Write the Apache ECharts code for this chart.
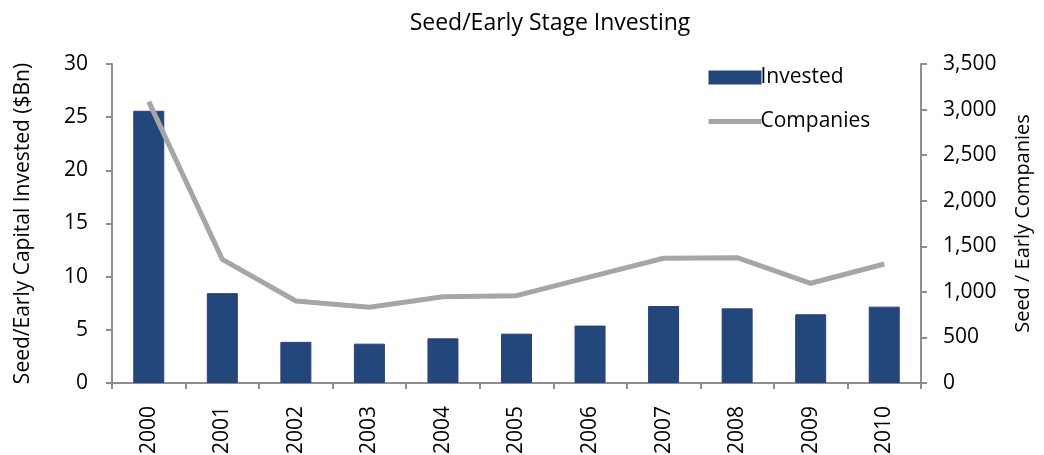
<!DOCTYPE html>
<html>
<head>
<meta charset="utf-8">
<script src="https://cdn.jsdelivr.net/npm/echarts@6/dist/echarts.min.js"></script>
<style>
  html, body { margin: 0; padding: 0; background: #fff; }
  #chart { width: 1044px; height: 455px; }
</style>
</head>
<body>
<div id="chart"></div>
<script>
const years = ['2000', '2001', '2002', '2003', '2004', '2005', '2006', '2007', '2008', '2009', '2010']
const invested = [25.6, 8.45, 3.87, 3.7, 4.2, 4.64, 5.4, 7.24, 7.02, 6.46, 7.18]
const companies = [3087, 1357, 900, 831, 947, 958, 1165, 1369, 1375, 1094, 1306]

const FONT = 'Open Sans'
const axisGray = '#8e8e8e'
const lineGray = '#a6a6a6'

const chart = echarts.init(document.getElementById('chart'))
chart.setOption({
  animation: false,
  textStyle: { fontFamily: FONT, color: '#000' },
  title: {
    text: 'Seed/Early Stage Investing',
    left: 545,
    textAlign: 'center',
    top: 7,
    textStyle: { fontFamily: FONT, fontSize: 23, fontWeight: 'normal', color: '#000' }
  },
  legend: {
    orient: 'vertical',
    left: 701,
    top: 62,
    itemWidth: 53,
    itemHeight: 14,
    itemGap: 23,
    itemStyle: { borderWidth: 0 },
    textStyle: { fontFamily: FONT, fontSize: 21, color: '#000', padding: [0, 0, 0, -6] },
    data: [
      { name: 'Invested', icon: 'rect' },
      { name: 'Companies', itemStyle: { opacity: 0 }, lineStyle: { width: 5, color: lineGray } }
    ]
  },
  grid: { left: 112, right: 123, top: 64, bottom: 72, outerBoundsMode: 'none' },
  xAxis: {
    type: 'category',
    data: years,
    axisLine: { lineStyle: { color: axisGray, width: 2 } },
    axisTick: { show: true, length: 6, lineStyle: { color: axisGray, width: 2 } },
    axisLabel: { rotate: 90, fontSize: 21, color: '#000', margin: 23 }
  },
  yAxis: [
    {
      type: 'value',
      min: 0,
      max: 30,
      interval: 5,
      name: 'Seed/Early Capital Invested ($Bn)',
      nameLocation: 'middle',
      nameGap: 78,
      nameTextStyle: { fontSize: 21, color: '#000' },
      axisLine: { show: true, lineStyle: { color: axisGray, width: 2 } },
      axisTick: { show: true, length: 6, lineStyle: { color: axisGray, width: 2 } },
      axisLabel: { fontSize: 21, color: '#000', margin: 24 },
      splitLine: { show: false }
    },
    {
      type: 'value',
      min: 0,
      max: 3500,
      interval: 500,
      position: 'right',
      name: 'Seed / Early Companies',
      nameLocation: 'middle',
      nameGap: 92,
      nameRotate: 90,
      nameTextStyle: { fontSize: 20, color: '#000' },
      axisLine: { show: true, lineStyle: { color: axisGray, width: 2 } },
      axisTick: { show: true, length: 6, lineStyle: { color: axisGray, width: 2 } },
      axisLabel: {
        fontSize: 21,
        color: '#000',
        margin: 22,
        formatter: (v) => v.toLocaleString('en-US')
      },
      splitLine: { show: false }
    }
  ],
  series: [
    {
      name: 'Invested',
      type: 'bar',
      data: invested,
      barWidth: 31,
      itemStyle: { color: '#21477b', borderColor: '#2c3f86', borderWidth: 1 }
    },
    {
      name: 'Companies',
      type: 'line',
      yAxisIndex: 1,
      data: companies,
      symbol: 'none',
      lineStyle: { color: lineGray, width: 5 },
      itemStyle: { color: lineGray }
    }
  ]
})
</script>
</body>
</html>
